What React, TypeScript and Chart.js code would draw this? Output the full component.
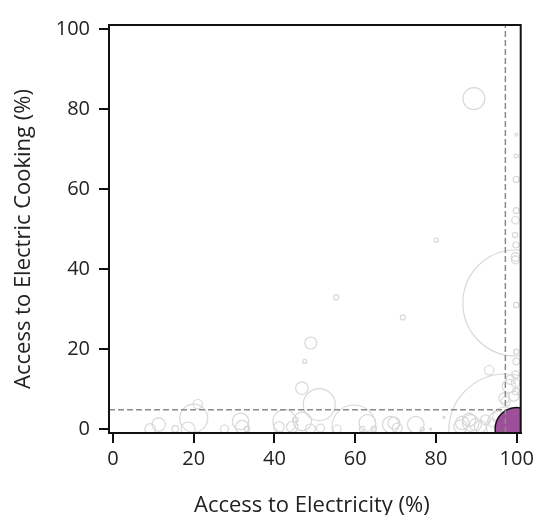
import React, { useEffect, useRef } from "react";
import { Chart, registerables } from "chart.js";

Chart.register(...registerables);

// Access to electricity (%) per country
const elecAccess = [
  89.4, 80.1, 55.3, 71.8, 49.0, 47.5, 46.8, 51.1, 93.2, 99.8, 97.3,
  99.9, 99.9, 99.9, 99.9, 99.7, 99.6, 99.8, 99.7, 99.7, 99.9, 99.9, 99.9, 99.7, 99.7, 99.8,
  96.9, 98.1, 98.5, 99.3, 97.3, 97.5, 98.5,
  9.2, 11.3, 15.4, 20.0, 21.0, 18.6, 27.6, 31.6, 32.0, 33.2, 41.1, 42.5, 44.4, 46.9, 48.9,
  51.4, 45.2, 55.5, 59.7, 63.0, 61.7, 64.6, 68.8, 69.6, 70.4, 75.0, 76.6, 78.7, 82.0,
  86.5, 88.2, 89.8, 86.1, 88.6, 91.0, 92.3, 94.0, 95.5,
];
// Access to electric cooking (%) per country
const cookingAccess = [
  82.6, 47.2, 32.9, 27.9, 21.5, 16.9, 10.2, 6.1, 14.7, 31.5, -0.5,
  73.6, 68.3, 62.4, 54.6, 52.2, 48.5, 46.0, 43.0, 42.3, 31.0, 19.3, 16.9, 13.6, 11.5, 9.4,
  7.7, 10.7, 12.3, 8.2, 6.9, 0.5, 3.0,
  0.0, 1.1, 0.0, 2.7, 6.2, 0.0, 0.0, 1.9, 0.5, 0.0, 0.5, 1.9, 0.5, 1.9, 0.0,
  0.2, 2.3, 0.0, 0.5, 1.5, 0.0, 0.0, 1.1, 1.5, 0.2, 1.1, 0.0, 0.0, 2.9,
  1.5, 2.3, 1.1, 0.6, 1.5, 0.6, 2.3, 1.5, 3.0,
];
// Bubble size (population scaled)
const bubbleSize = [
  11, 2, 2.5, 2.5, 6, 2, 6.3, 16, 4.7, 53, 57,
  1.5, 2, 3, 3, 3.7, 2.7, 3, 4.3, 4, 2.7, 2.7, 3.3, 3.7, 4.3, 3.3,
  5.3, 6.7, 4.7, 5, 4.7, 20, 8,
  5.3, 6.7, 3.3, 14, 4.7, 7, 4, 8.3, 6.7, 2.7, 5.3, 11.7, 5.7, 9.3, 5,
  4, 2.7, 4, 22, 8.3, 2.7, 2.7, 8.3, 6, 5, 8.3, 2, 1, 1,
  6.7, 6.7, 6, 6.7, 8.3, 6, 5, 4, 6,
];

// Highlighted country
const highlightElec = 100;
const highlightCooking = 0;
const highlightSize = 21.5;

// Average reference lines
const avgElec = 97.2;
const avgCooking = 4.8;

const axisMin = -1;
const axisMax = 101;
const tickValues = [0, 20, 40, 60, 80, 100];

const xTitle = "Access to Electricity (%)";
const yTitle = "Access to Electric Cooking (%)";

export default function App() {
  const ref = useRef<HTMLCanvasElement | null>(null);

  useEffect(() => {
    if (!ref.current) return;
    const greyData = elecAccess.map((x, i) => ({ x, y: cookingAccess[i], r: bubbleSize[i] }));

    const boxPlugin = {
      id: "box",
      afterDatasetsDraw(chart: any) {
        const { ctx, chartArea } = chart;
        ctx.save();
        ctx.strokeStyle = "#111";
        ctx.lineWidth = 2;
        ctx.strokeRect(chartArea.left, chartArea.top, chartArea.right - chartArea.left, chartArea.bottom - chartArea.top);
        ctx.restore();
      },
    };

    const titlePlugin = {
      id: "axisTitles",
      afterDraw(chart: any) {
        const { ctx, chartArea } = chart;
        ctx.save();
        ctx.fillStyle = "#222";
        ctx.font = "22px 'Open Sans'";
        ctx.textAlign = "center";
        ctx.textBaseline = "alphabetic";
        const cx = (chartArea.left + chartArea.right) / 2 - 3;
        ctx.fillText(xTitle, cx, 512);
        ctx.translate(23.5, (chartArea.top + chartArea.bottom) / 2 + 10);
        ctx.rotate(-Math.PI / 2);
        ctx.textBaseline = "middle";
        ctx.fillText(yTitle, 0, 0);
        ctx.restore();
      },
    };

    const tickFont = { family: "'Open Sans'", size: 20 };

    const chart = new Chart(ref.current, {
      type: "bubble",
      data: {
        datasets: [
          {
            type: "line",
            data: [
              { x: avgElec, y: axisMin },
              { x: avgElec, y: axisMax },
            ],
            borderColor: "#8a8a8a",
            borderWidth: 1.5,
            borderDash: [6, 3],
            pointRadius: 0,
            fill: false,
            order: 1,
          } as any,
          {
            type: "line",
            data: [
              { x: axisMin, y: avgCooking },
              { x: avgElec, y: avgCooking },
            ],
            borderColor: "#8a8a8a",
            borderWidth: 1.5,
            borderDash: [6, 3],
            pointRadius: 0,
            fill: false,
            order: 1,
          } as any,
          {
            data: [{ x: highlightElec, y: highlightCooking, r: highlightSize }],
            backgroundColor: "#9e4f9a",
            borderColor: "#111",
            borderWidth: 1.5,
            clip: 0,
            order: 2,
          } as any,
          {
            data: greyData,
            backgroundColor: "rgba(0,0,0,0)",
            borderColor: "#d8d8d8",
            borderWidth: 1.2,
            clip: 0,
            order: 3,
          } as any,
        ],
      },
      options: {
        animation: false,
        responsive: false,
        events: [],
        layout: { autoPadding: false, padding: { left: 0, right: 17.3, top: 25, bottom: 0 } },
        plugins: { legend: { display: false }, tooltip: { enabled: false } },
        scales: {
          x: {
            type: "linear",
            min: axisMin,
            max: axisMax,
            afterBuildTicks: (s: any) => {
              s.ticks = tickValues.map((v) => ({ value: v }));
            },
            afterFit: (s: any) => {
              s.height = 82;
            },
            grid: { drawOnChartArea: false, drawTicks: true, tickLength: 10, color: "#111", lineWidth: 2 },
            border: { display: true, color: "#111", width: 2 },
            ticks: { font: tickFont, color: "#222", padding: 4, maxRotation: 0 },
            title: { display: false },
          },
          y: {
            type: "linear",
            min: axisMin,
            max: axisMax,
            afterBuildTicks: (s: any) => {
              s.ticks = tickValues.map((v) => ({ value: v }));
            },
            afterFit: (s: any) => {
              s.width = 109;
            },
            grid: { drawOnChartArea: false, drawTicks: true, tickLength: 10, color: "#111", lineWidth: 2 },
            border: { display: true, color: "#111", width: 2 },
            ticks: { font: tickFont, color: "#222", padding: 9 },
            title: { display: false },
          },
        },
      },
      plugins: [boxPlugin, titlePlugin],
    });
    return () => chart.destroy();
  }, []);

  return (
    <div style={{ position: "fixed", left: 0, top: 0, width: 538, height: 515 }}>
      <canvas ref={ref} width={538} height={515} style={{ display: "block", width: 538, height: 515 }} />
    </div>
  );
}
